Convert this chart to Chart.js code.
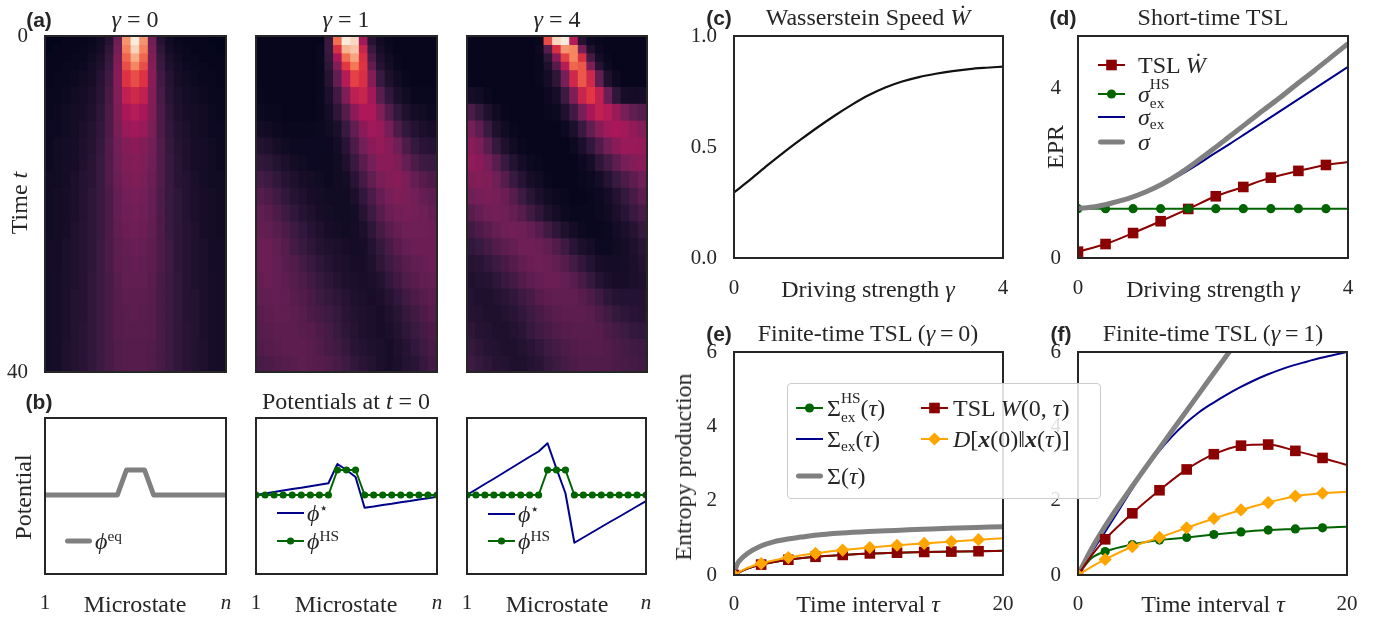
<!DOCTYPE html>
<html>
<head>
<meta charset="utf-8">
<title>TSL figure</title>
<script src="https://cdn.jsdelivr.net/npm/chart.js"></script>
<style>
  html, body { margin: 0; padding: 0; background: #fff; }
  #fig { position: relative; width: 1388px; height: 623px; overflow: hidden;
         font-family: 'Liberation Serif', 'DejaVu Serif', serif; color: #262626; }
  #fig canvas { position: absolute; }
  .lbl { position: absolute; transform: translate(-50%, -50%); white-space: nowrap; font-size: 24px; line-height: 1; }
  .rot { transform: translate(-50%, -50%) rotate(-90deg); }
  .tag { font-family: 'Liberation Sans', sans-serif; font-weight: bold; font-size: 21px; }
  sub, sup { font-size: 0.64em; line-height: 0; }
  sub { vertical-align: -0.28em; }
  sup { vertical-align: 0.55em; }
  .ss { display: inline-grid; font-size: 0.64em; line-height: 1; }
  .ss > span { grid-area: 1 / 1; position: relative; }
  .ss .up { top: -0.82em; }
  .ss .dn { top: 0.42em; }
  .row { position: absolute; display: flex; align-items: center; white-space: nowrap; font-size: 24px; line-height: 1; transform: translateY(-50%); }
  .row svg { flex: none; }
  #legEF { position: absolute; left: 787px; top: 383px; width: 312px; height: 114px; background: rgba(255,255,255,0.85);
           border: 1px solid #cccccc; border-radius: 4px; z-index: 5; }
</style>
</head>
<body>
<div id="fig">
  <canvas id="a1"></canvas><canvas id="a2"></canvas><canvas id="a3"></canvas>
  <canvas id="b1"></canvas><canvas id="b2"></canvas><canvas id="b3"></canvas>
  <canvas id="c"></canvas><canvas id="d"></canvas>
  <canvas id="e"></canvas><canvas id="f"></canvas>

  <div class="lbl tag" style="left:39px;top:19px">(a)</div>
  <div class="lbl" style="left:135px;top:19px"><i>γ</i> = 0</div>
  <div class="lbl" style="left:346px;top:19px"><i>γ</i> = 1</div>
  <div class="lbl" style="left:557px;top:19px"><i>γ</i> = 4</div>
  <div class="lbl rot" style="left:19px;top:203px">Time <i>t</i></div>

  <div class="lbl tag" style="left:39px;top:401px">(b)</div>
  <div class="lbl" style="left:346px;top:401px">Potentials at <i>t</i> = 0</div>
  <div class="lbl rot" style="left:23px;top:497px">Potential</div>
  <div class="lbl" style="left:135px;top:604px">Microstate</div>
  <div class="lbl" style="left:346px;top:604px">Microstate</div>
  <div class="lbl" style="left:557px;top:604px">Microstate</div>

  <div class="lbl tag" style="left:719px;top:17px">(c)</div>
  <div class="lbl" style="left:868px;top:17px">Wasserstein Speed <i>Ẇ</i></div>
  <div class="lbl tag" style="left:1063px;top:17px">(d)</div>
  <div class="lbl" style="left:1213px;top:17px">Short-time TSL</div>
  <div class="lbl" style="left:868px;top:289px">Driving strength <i>γ</i></div>
  <div class="lbl" style="left:1213px;top:289px">Driving strength <i>γ</i></div>
  <div class="lbl rot" style="left:1055px;top:147px">EPR</div>

  <div class="lbl tag" style="left:719px;top:333px">(e)</div>
  <div class="lbl" style="left:868px;top:333px">Finite-time TSL (<i>γ</i>&thinsp;=&thinsp;0)</div>
  <div class="lbl tag" style="left:1061px;top:333px">(f)</div>
  <div class="lbl" style="left:1213px;top:333px">Finite-time TSL (<i>γ</i>&thinsp;=&thinsp;1)</div>
  <div class="lbl" style="left:868px;top:604px">Time interval <i>τ</i></div>
  <div class="lbl" style="left:1213px;top:604px">Time interval <i>τ</i></div>
  <div class="lbl rot" style="left:683px;top:467px">Entropy production</div>

  <div id="legEF"></div>
</div>

<script>
// ---------- (a) heatmaps: intensity 0-100 on the rocket scale, one row per time band
const states = [0, 1, 2, 3, 4, 5, 6, 7, 8, 9, 10, 11, 12, 13, 14, 15, 16, 17, 18, 19, 20]
const heatTimeEdges = [0, 1, 2, 3, 4, 6, 8, 10, 12, 14, 16, 18, 20, 22, 24, 26, 28, 30, 32, 34, 36, 38, 40]
const heatTimeTicks = [0, 40]
const heatTimeLabels = ['0', '40']

const heatGamma0 = [
  [0,0,1,1,1,2,4,10,28,78,100,78,28,10,4,2,1,1,1,0,0],
  [0,1,1,1,2,3,5,12,30,74,94,74,30,12,5,3,2,1,1,1,0],
  [1,1,1,2,2,4,7,14,32,68,84,68,32,14,7,4,2,2,1,1,1],
  [1,1,2,2,3,5,8,15,33,63,75,63,33,15,8,5,3,2,2,1,1],
  [1,2,2,3,4,6,10,17,34,56,63,56,34,17,10,6,4,3,2,2,1],
  [2,2,3,4,5,7,11,19,33,48,52,48,33,19,11,7,5,4,3,2,2],
  [2,3,4,5,6,8,12,20,32,42,45,42,32,20,12,8,6,5,4,3,2],
  [3,3,4,5,7,9,13,20,31,38,40,38,31,20,13,9,7,5,4,3,3],
  [3,4,5,6,8,10,14,21,29,33,35,33,29,21,14,10,8,6,5,4,3],
  [3,4,5,6,8,11,15,21,28,32,33,32,28,21,15,11,8,6,5,4,3],
  [4,4,5,7,9,11,15,21,27,31,32,31,27,21,15,11,9,7,5,4,4],
  [4,5,6,7,9,12,15,20,26,29,30,29,26,20,15,12,9,7,6,5,4],
  [4,5,6,7,9,12,15,20,26,28,29,28,26,20,15,12,9,7,6,5,4],
  [4,5,6,8,10,12,15,20,25,27,28,27,25,20,15,12,10,8,6,5,4],
  [5,5,7,8,10,12,16,20,24,26,27,26,24,20,16,12,10,8,7,5,5],
  [5,5,7,8,10,12,16,20,24,25,26,25,24,20,16,12,10,8,7,5,5],
  [5,6,7,8,10,13,16,19,23,25,25,25,23,19,16,13,10,8,7,6,5],
  [5,6,7,9,10,13,16,19,22,24,24,24,22,19,16,13,10,9,7,6,5],
  [5,6,7,9,10,13,16,19,22,23,24,23,22,19,16,13,10,9,7,6,5],
  [5,6,7,9,11,13,16,19,22,23,23,23,22,19,16,13,11,9,7,6,5],
  [5,6,8,9,11,13,16,19,21,22,22,22,21,19,16,13,11,9,8,6,5],
  [5,6,8,9,11,13,16,19,21,22,22,22,21,19,16,13,11,9,8,6,5]
]

const heatGamma1 = [
  [1,1,1,1,1,1,1,1,15,70,100,95,40,10,4,2,1,1,1,1,1],
  [1,1,1,1,1,1,1,2,15,55,86,90,50,15,6,3,1,1,1,1,1],
  [1,1,1,1,1,1,1,2,14,42,70,82,55,20,8,4,2,1,1,1,1],
  [1,1,1,1,1,1,1,2,12,33,58,72,57,25,10,5,2,1,1,1,1],
  [1,1,1,1,1,1,1,2,10,25,45,60,55,33,15,8,4,2,1,1,1],
  [2,1,1,1,1,1,1,2,7,17,32,47,50,40,23,13,7,4,2,2,2],
  [3,2,2,1,1,1,1,2,5,12,22,35,43,43,33,22,13,8,5,4,3],
  [5,4,3,2,2,2,2,3,4,7,15,25,35,40,38,30,20,13,9,7,6],
  [9,8,6,4,3,3,3,3,3,5,11,20,29,35,37,34,28,20,14,11,10],
  [13,12,9,7,5,4,3,3,3,4,8,15,23,30,34,35,32,26,20,16,15],
  [18,16,13,10,8,6,5,4,3,4,5,11,18,25,31,33,34,31,26,22,20],
  [22,20,17,13,10,8,6,5,4,4,4,7,13,20,26,30,32,31,29,26,24],
  [25,23,20,16,13,10,8,6,5,4,4,5,10,16,22,27,29,30,29,28,26],
  [26,25,23,20,16,13,10,8,6,5,4,5,7,12,18,23,26,28,28,28,27],
  [27,27,25,22,18,15,12,9,8,7,6,5,6,9,14,19,23,26,27,27,27],
  [27,27,26,23,21,18,15,12,10,8,7,6,6,8,12,16,20,23,25,26,27],
  [26,27,26,24,22,20,17,14,12,10,8,7,6,7,9,13,17,21,23,25,26],
  [25,25,26,25,23,21,19,16,14,12,10,8,7,6,7,10,13,17,20,22,24],
  [23,24,25,25,24,22,20,18,16,14,11,9,8,7,6,8,11,14,17,20,22],
  [22,23,24,24,24,23,22,20,18,15,12,10,8,7,6,7,9,12,15,18,20],
  [21,22,23,24,24,24,23,21,19,17,14,11,9,8,7,6,8,10,13,16,19],
  [19,20,21,22,23,24,23,22,21,19,16,13,11,9,7,6,7,9,11,14,17]
]

const heatGamma4 = [
  [1,1,1,1,1,1,1,1,2,62,95,100,45,10,3,2,1,1,1,1,1],
  [1,1,1,1,1,1,1,1,3,22,55,78,75,30,8,3,1,1,1,1,1],
  [1,1,1,1,1,1,1,1,2,12,35,60,75,55,18,5,2,1,1,1,1],
  [1,1,1,1,1,1,1,1,2,8,22,45,68,65,32,10,3,1,1,1,1],
  [1,1,1,1,1,1,1,1,2,5,12,30,52,65,52,25,8,3,1,1,1],
  [6,4,2,1,1,1,1,1,1,3,6,16,32,50,58,48,27,12,6,5,6],
  [20,14,8,4,2,1,1,1,1,2,3,8,17,30,42,48,45,38,30,25,22],
  [30,24,15,8,4,2,1,1,1,1,1,3,7,15,25,34,40,42,40,36,33],
  [35,31,23,14,8,4,2,1,1,1,1,1,3,7,13,21,29,35,38,38,37],
  [36,35,30,23,15,9,5,3,2,1,1,1,1,3,6,12,18,24,30,33,35],
  [32,33,32,28,22,15,10,6,4,2,1,1,1,2,3,5,10,15,20,24,28],
  [28,30,31,30,27,22,16,11,7,4,3,2,1,1,2,3,5,9,14,19,24],
  [23,26,28,29,28,26,22,17,12,8,5,3,2,2,2,3,4,7,11,15,19],
  [17,20,23,26,28,29,28,26,22,17,12,8,5,3,2,2,3,5,7,10,14],
  [13,15,18,21,24,26,28,28,27,25,21,16,11,7,5,3,3,4,6,8,11],
  [10,11,13,16,19,22,25,27,28,27,25,22,18,13,9,6,5,5,6,7,9],
  [8,9,10,12,15,18,21,24,26,27,27,26,23,19,14,10,7,6,6,7,8],
  [9,8,8,9,11,13,16,19,22,24,25,25,25,23,20,16,12,10,9,9,9],
  [10,9,8,8,9,11,13,16,19,21,23,24,24,24,23,20,17,14,12,11,10],
  [12,10,9,8,8,9,11,14,17,19,21,22,23,23,23,22,20,18,16,14,13],
  [14,12,10,9,8,8,9,11,13,16,18,20,21,22,22,22,21,20,18,17,16],
  [16,14,12,10,9,8,8,9,11,14,16,18,20,21,21,21,21,20,19,18,17]
]

// ---------- (b) potentials at t = 0
const phiEq = [0,0,0,0,0,0,0,0,0,1,1,1,0,0,0,0,0,0,0,0,0]
const phiHs = [0,0,0,0,0,0,0,0,0,1,1,1,0,0,0,0,0,0,0,0,0]
const phiStar1 = [0,0.06,0.12,0.18,0.24,0.29,0.35,0.41,0.47,1.24,1.0,0.72,-0.51,-0.46,-0.40,-0.35,-0.29,-0.24,-0.18,-0.13,-0.07]
const phiStar4 = [0,0.22,0.44,0.65,0.87,1.09,1.31,1.53,1.74,2.07,1.05,0.07,-1.91,-1.70,-1.49,-1.28,-1.07,-0.87,-0.66,-0.45,-0.24]
const stateTicks = [0, 20]
const stateLabels = ['1', 'n']

// ---------- (c) Wasserstein speed
const cGamma = [0,0.25,0.5,0.75,1,1.25,1.5,1.75,2,2.25,2.5,2.75,3,3.25,3.5,3.75,4]
const cSpeed = [0.295,0.355,0.418,0.478,0.535,0.590,0.642,0.690,0.733,0.768,0.795,0.815,0.830,0.842,0.851,0.857,0.862]
const cXTicks = [0, 4]
const cXLabels = ['0', '4']
const cYTicks = [0, 0.5, 1]
const cYLabels = ['0.0', '0.5', '1.0']

// ---------- (d) short-time TSL
const dGamma = [0,0.25,0.5,0.75,1,1.25,1.5,1.75,2,2.25,2.5,2.75,3,3.25,3.5,3.75,4]
const dSigma = [1.17,1.21,1.30,1.41,1.56,1.75,1.99,2.27,2.57,2.88,3.19,3.50,3.80,4.12,4.43,4.75,5.07]
const dSigmaEx = [1.17,1.21,1.30,1.41,1.56,1.74,1.95,2.19,2.45,2.70,2.96,3.22,3.48,3.74,4.00,4.26,4.52]
const dMarkGamma = [0,0.408,0.816,1.224,1.633,2.041,2.449,2.857,3.265,3.673,4]
const dTsl = [0.15,0.33,0.59,0.87,1.16,1.46,1.68,1.90,2.06,2.20,2.27]
const dHs = [1.167,1.167,1.167,1.167,1.167,1.167,1.167,1.167,1.167,1.167,1.167]
const dXTicks = [0, 4]
const dXLabels = ['0', '4']
const dYTicks = [0, 4]
const dYLabels = ['0', '4']

// ---------- (e) finite-time TSL, gamma = 0
const eMarkTau = [0,1,2.02,4.04,6.06,8.08,10.1,12.12,14.14,16.16,18.18,20]
const eTsl = [0,0.17,0.28,0.41,0.49,0.54,0.58,0.60,0.62,0.63,0.64,0.65]
const eHs = [0,0.17,0.28,0.41,0.49,0.54,0.58,0.60,0.62,0.63,0.64,0.65]
const eDiv = [0,0.19,0.31,0.47,0.58,0.67,0.74,0.80,0.85,0.90,0.95,0.99]
const eTau = [0,0.25,0.5,1,2,3,4,5,6,8,10,12,14,16,18,20]
const eSigma = [0.05,0.30,0.42,0.58,0.78,0.90,0.97,1.02,1.07,1.13,1.17,1.20,1.23,1.26,1.28,1.30]
const eSigmaEx = [0.05,0.30,0.42,0.58,0.78,0.90,0.97,1.02,1.07,1.13,1.17,1.20,1.23,1.26,1.28,1.30]

// ---------- (f) finite-time TSL, gamma = 1
const fMarkTau = [0,1,2.02,4.04,6.06,8.08,10.1,12.12,14.14,16.16,18.18,20]
const fTsl = [0,0.52,0.96,1.66,2.28,2.84,3.25,3.48,3.51,3.34,3.15,2.96]
const fDiv = [0,0.22,0.42,0.76,1.01,1.27,1.52,1.75,1.95,2.12,2.20,2.24]
const fHs = [0,0.45,0.63,0.82,0.94,1.01,1.09,1.16,1.21,1.24,1.27,1.30]
const fTau = [0,1,2,3,4,5,6,7,8,9,10,11,12,13,14,15,16,17,18,19,20]
const fSigmaEx = [0,0.60,1.15,1.72,2.30,2.85,3.32,3.73,4.08,4.38,4.62,4.84,5.04,5.22,5.38,5.52,5.64,5.74,5.84,5.92,6.00]
const fSigmaTau = [0,1,2,3,4,5,6,7,8,9,10,11,12]
const fSigma = [0,0.70,1.30,1.85,2.37,2.88,3.38,3.88,4.38,4.88,5.38,5.88,6.38]

const epXTicks = [0, 20]
const epXLabels = ['0', '20']
const epYTicks = [0, 2, 4, 6]
const epYLabels = ['0', '2', '4', '6']

// colours
const RED = '#8b0000', GREEN = '#006400', BLUE = '#00008b', GREY = '#808080', ORANGE = '#ffa500'

Chart.defaults.font.family = "'Liberation Serif', 'DejaVu Serif', serif"
Chart.defaults.font.size = 21
Chart.defaults.color = '#262626'

// seaborn "rocket"
const rocketStops = [
  [0, [3, 5, 26]], [1 / 7, [53, 25, 62]], [2 / 7, [112, 31, 87]], [3 / 7, [173, 23, 89]],
  [4 / 7, [225, 51, 66]], [5 / 7, [243, 118, 81]], [6 / 7, [246, 180, 143]], [1, [250, 235, 221]]
]
function rocket(v) {
  v = Math.max(0, Math.min(1, v))
  for (let i = 1; i < rocketStops.length; i++) {
    const [p1, c1] = rocketStops[i]
    const [p0, c0] = rocketStops[i - 1]
    if (v <= p1) {
      const k = (v - p0) / (p1 - p0)
      const c = c0.map((a, j) => Math.round(a + (c1[j] - a) * k))
      return `rgb(${c[0]},${c[1]},${c[2]})`
    }
  }
  return 'rgb(250,235,221)'
}

const frame = {
  id: 'frame',
  afterDatasetsDraw(chart) {
    const a = chart.chartArea, ctx = chart.ctx
    ctx.save()
    ctx.strokeStyle = '#262626'
    ctx.lineWidth = 2
    ctx.strokeRect(a.left, a.top, a.right - a.left, a.bottom - a.top)
    ctx.restore()
  }
}

// room round the plot area; top/right must exceed half a tick label plus its padding
const PAD = { l: 60, r: 34, t: 32, b: 48 }

function makeChart(id, area, type, labels, datasets, xs, ys) {
  const cv = document.getElementById(id)
  const W = area.w + PAD.l + PAD.r
  const H = area.h + PAD.t + PAD.b
  cv.width = W
  cv.height = H
  cv.style.left = (area.x - PAD.l) + 'px'
  cv.style.top = (area.y - PAD.t) + 'px'
  cv.style.width = W + 'px'
  cv.style.height = H + 'px'
  const base = { grid: { display: false, drawTicks: false }, border: { display: false } }
  return new Chart(cv, {
    type,
    data: { labels, datasets },
    options: {
      responsive: false,
      animation: false,
      devicePixelRatio: 1,
      events: [],
      layout: { padding: { left: 0, right: PAD.r, top: PAD.t, bottom: 0 } },
      plugins: { legend: { display: false }, tooltip: { enabled: false } },
      scales: {
        x: Object.assign({}, base, { afterFit: (s) => { s.height = PAD.b } }, xs),
        y: Object.assign({}, base, { afterFit: (s) => { s.width = PAD.l } }, ys)
      }
    },
    plugins: [frame]
  })
}

function tickAxis(values, labels, pad, extra) {
  return Object.assign({
    afterBuildTicks: (s) => { s.ticks = values.map((v) => ({ value: v })) },
    ticks: { padding: pad, maxRotation: 0, autoSkip: false, callback: (v, i) => labels[i] }
  }, extra)
}

const noTicks = { ticks: { display: false } }

function series(xs, ys, color, width, extra) {
  return Object.assign({
    data: xs.map((x, i) => ({ x: x, y: ys[i] })),
    borderColor: color,
    backgroundColor: color,
    borderWidth: width,
    pointRadius: 0,
    pointBorderWidth: 0,
    borderJoinStyle: 'round',
    cubicInterpolationMode: 'monotone',
    clip: 0
  }, extra)
}

function marks(n, r, skip) {
  const out = []
  for (let i = 0; i < n; i++) out.push(skip.includes(i) ? 0 : r)
  return out
}

// ---------- (a)
function heatDatasets(rows) {
  return rows.map((row, k) => ({
    data: row.map(() => heatTimeEdges[k + 1] - heatTimeEdges[k]),
    backgroundColor: row.map((v) => rocket(v / 100)),
    borderWidth: 0,
    inflateAmount: 0.6,
    barPercentage: 1,
    categoryPercentage: 1
  }))
}
const heatX = Object.assign({ type: 'category', stacked: true }, noTicks)
const heatYTicks = tickAxis(heatTimeTicks, heatTimeLabels, 17, { stacked: true, reverse: true, min: 0, max: 40 })
const heatYPlain = Object.assign({ stacked: true, reverse: true, min: 0, max: 40 }, noTicks)

makeChart('a1', { x: 45, y: 36, w: 181, h: 336 }, 'bar', states, heatDatasets(heatGamma0), heatX, heatYTicks)
makeChart('a2', { x: 256, y: 36, w: 181, h: 336 }, 'bar', states, heatDatasets(heatGamma1), heatX, heatYPlain)
makeChart('a3', { x: 467, y: 36, w: 180, h: 336 }, 'bar', states, heatDatasets(heatGamma4), heatX, heatYPlain)

// ---------- (b)
const stateAxis = tickAxis(stateTicks, stateLabels, 17, { type: 'linear', min: 0, max: 20 })
stateAxis.ticks.font = (ctx) => ({ size: 21, style: ctx.index === 1 ? 'italic' : 'normal' })
const potY = Object.assign({ min: -3.16, max: 3.08 }, noTicks)
const straight = { cubicInterpolationMode: 'default', tension: 0 }

makeChart('b1', { x: 45, y: 418, w: 181, h: 156 }, 'line', undefined,
  [series(states, phiEq, GREY, 5, straight)], stateAxis, potY)
makeChart('b2', { x: 256, y: 418, w: 181, h: 156 }, 'line', undefined, [
  series(states, phiHs, GREEN, 2, Object.assign({ pointRadius: 3.6, pointStyle: 'circle' }, straight)),
  series(states, phiStar1, BLUE, 2, straight)
], stateAxis, potY)
makeChart('b3', { x: 467, y: 418, w: 179, h: 156 }, 'line', undefined, [
  series(states, phiHs, GREEN, 2, Object.assign({ pointRadius: 3.6, pointStyle: 'circle' }, straight)),
  series(states, phiStar4, BLUE, 2, straight)
], stateAxis, potY)

// ---------- (c)
makeChart('c', { x: 734, y: 36, w: 269, h: 222 }, 'line', undefined,
  [series(cGamma, cSpeed, '#111111', 2.2)],
  tickAxis(cXTicks, cXLabels, 18, { type: 'linear', min: 0, max: 4 }),
  tickAxis(cYTicks, cYLabels, 17, { min: 0, max: 1 }))

// ---------- (d)
const dMarks = marks(dMarkGamma.length, 7.5, [dMarkGamma.length - 1])
const dDots = marks(dMarkGamma.length, 4.6, [dMarkGamma.length - 1])
makeChart('d', { x: 1078, y: 36, w: 270, h: 222 }, 'line', undefined, [
  series(dGamma, dSigma, GREY, 5),
  series(dGamma, dSigmaEx, BLUE, 2),
  series(dMarkGamma, dHs, GREEN, 2, { pointRadius: dDots, pointStyle: 'circle' }),
  series(dMarkGamma, dTsl, RED, 2, { pointRadius: dMarks, pointStyle: 'rect' })
], tickAxis(dXTicks, dXLabels, 18, { type: 'linear', min: 0, max: 4 }),
  tickAxis(dYTicks, dYLabels, 17, { min: 0, max: 5.25 }))

// ---------- (e), (f)
const skipE = [1, eMarkTau.length - 1]
function epDatasets(markTau, tsl, div, hs, tau, sigmaEx, sigmaTau, sigma) {
  return [
    series(markTau, div, ORANGE, 2, { pointRadius: marks(markTau.length, 6.6, skipE), pointStyle: 'rectRot' }),
    series(markTau, tsl, RED, 2, { pointRadius: marks(markTau.length, 7.5, skipE), pointStyle: 'rect' }),
    series(sigmaTau, sigma, GREY, 5),
    series(tau, sigmaEx, BLUE, 2),
    series(markTau, hs, GREEN, 2, { pointRadius: marks(markTau.length, 4.6, skipE), pointStyle: 'circle' })
  ]
}
makeChart('e', { x: 734, y: 352, w: 269, h: 223 }, 'line', undefined,
  epDatasets(eMarkTau, eTsl, eDiv, eHs, eTau, eSigmaEx, eTau, eSigma),
  tickAxis(epXTicks, epXLabels, 17, { type: 'linear', min: 0, max: 20 }),
  tickAxis(epYTicks, epYLabels, 17, { min: 0, max: 6 }))
makeChart('f', { x: 1078, y: 352, w: 269, h: 223 }, 'line', undefined,
  epDatasets(fMarkTau, fTsl, fDiv, fHs, fTau, fSigmaEx, fSigmaTau, fSigma),
  tickAxis(epXTicks, epXLabels, 17, { type: 'linear', min: 0, max: 20 }),
  tickAxis(epYTicks, epYLabels, 17, { min: 0, max: 6 }))

// ---------- legends (html, with drawn samples)
function sample(color, lw, marker, mr, round) {
  const w = 27, h = 18, cy = h / 2, cx = w / 2
  let m = ''
  if (marker === 'rect') m = `<rect x="${cx - mr}" y="${cy - mr}" width="${2 * mr}" height="${2 * mr}" fill="${color}"/>`
  if (marker === 'circle') m = `<circle cx="${cx}" cy="${cy}" r="${mr}" fill="${color}"/>`
  if (marker === 'diamond') m = `<polygon points="${cx - mr},${cy} ${cx},${cy - mr} ${cx + mr},${cy} ${cx},${cy + mr}" fill="${color}"/>`
  const cap = round ? 'round' : 'butt'
  const x0 = round ? lw / 2 : 0
  return `<svg width="${w}" height="${h}" viewBox="0 0 ${w} ${h}"><line x1="${x0}" y1="${cy}" x2="${w - x0}" y2="${cy}" stroke="${color}" stroke-width="${lw}" stroke-linecap="${cap}"/>${m}</svg>`
}

function row(parent, x, y, svg, html, gap) {
  const el = document.createElement('div')
  el.className = 'row'
  el.style.left = x + 'px'
  el.style.top = y + 'px'
  el.innerHTML = svg + `<span style="margin-left:${gap}px">${html}</span>`
  parent.appendChild(el)
}

const fig = document.getElementById('fig')
const tauI = '(<i>τ</i>)'
const hsEx = '<span class="ss"><span class="up">HS</span><span class="dn">ex</span></span>'

row(fig, 65, 541, sample(GREY, 5, null, 0, true), '<i>ϕ</i><sup>eq</sup>', 3)
row(fig, 277, 513, sample(BLUE, 2), '<i>ϕ</i><sup>⋆</sup>', 3)
row(fig, 277, 541, sample(GREEN, 2, 'circle', 3.6), '<i>ϕ</i><sup>HS</sup>', 3)
row(fig, 488, 514, sample(BLUE, 2), '<i>ϕ</i><sup>⋆</sup>', 3)
row(fig, 488, 541, sample(GREEN, 2, 'circle', 3.6), '<i>ϕ</i><sup>HS</sup>', 3)

row(fig, 1098, 65, sample(RED, 2, 'rect', 5.3), 'TSL <i>Ẇ</i>', 13)
row(fig, 1098, 94, sample(GREEN, 2, 'circle', 4.6), '<i>σ</i>' + hsEx, 13)
row(fig, 1098, 117, sample(BLUE, 2), '<i>σ</i><sub>ex</sub>', 13)
row(fig, 1098, 142, sample(GREY, 5, null, 0, true), '<i>σ</i>', 13)

const leg = document.getElementById('legEF')
row(leg, 8, 24, sample(GREEN, 2, 'circle', 4.6), 'Σ' + hsEx + tauI, 4)
row(leg, 8, 55, sample(BLUE, 2), 'Σ<sub>ex</sub>' + tauI, 4)
row(leg, 8, 92, sample(GREY, 5, null, 0, true), 'Σ' + tauI, 4)
row(leg, 133, 24, sample(RED, 2, 'rect', 5.3), 'TSL <i>W</i>(0, <i>τ</i>)', 5)
row(leg, 133, 55, sample(ORANGE, 2, 'diamond', 6.6), '<i>D</i>[<b><i>x</i></b>(0)‖<b><i>x</i></b>' + tauI + ']', 5)
</script>
</body>
</html>
